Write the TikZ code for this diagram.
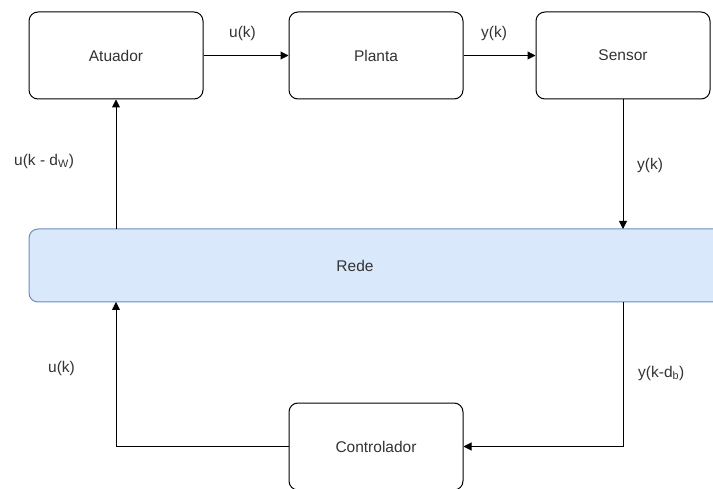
\documentclass[tikz,border=0pt]{standalone}
\usepackage{fontspec}
\setmainfont{Liberation Sans}
\usetikzlibrary{arrows.meta}
\definecolor{txt}{HTML}{333333}
\definecolor{netfill}{HTML}{DAE8FC}
\definecolor{netline}{HTML}{6C8EBF}
\tikzset{
  lbfont/.style={font=\fontsize{15.5pt}{18pt}\selectfont},
  block/.style={draw=black, line width=1pt, rounded corners=9pt, minimum width=174pt, minimum height=87pt, inner sep=0pt, text=txt, lbfont},
  netbox/.style={draw=netline, fill=netfill, line width=1pt, rounded corners=9pt, inner sep=0pt},
  sig/.style={text=txt, lbfont, inner sep=0pt, anchor=west},
  conn/.style={draw=black, line width=1pt, -{Triangle[length=8pt,width=8pt]}}
}
\begin{document}
\begin{tikzpicture}[x=1pt, y=-1pt]
  \useasboundingbox (0,0) rectangle (713,489);
  % processing blocks
  \node[block] (act) at (116,55.5) {Atuador};
  \node[block] (plant) at (376,55.5) {Planta};
  \node[block] (sens) at (623,55.5) {Sensor};
  \node[block] (ctrl) at (376,446.5) {Controlador};
  % communication network
  \node[netbox, minimum width=700pt, minimum height=73pt] (net) at (379,265.5) {};
  \node[text=txt, lbfont, inner sep=0pt] (netlbl) at (355,265.5) {Rede};
  % connection points on the network bar
  \coordinate (netA) at (116,229);
  \coordinate (netS) at (623,229);
  \coordinate (netC) at (116,302);
  \coordinate (netY) at (623,302);
  % signal flow
  \draw[conn] (act.east) -- (plant.west);
  \draw[conn] (plant.east) -- (sens.west);
  \draw[conn] (sens.south -| netS) -- (netS);
  \draw[conn] (netA) -- (act.south);
  \draw[conn] (netY) |- (ctrl.east);
  \draw[conn] (ctrl.west) -| (netC);
  % signal labels
  \node[sig] (l1) at (229,33) {u(k)};
  \node[sig] (l2) at (481,33) {y(k)};
  \node[sig] (l3) at (637,165) {y(k)};
  \node[sig] (l4) at (14,161) {u(k - d$_{\mathrm{W}}$)};
  \node[sig] (l5) at (48,368) {u(k)};
  \node[sig] (l6) at (638,373) {y(k-d$_{\mathrm{b}}$)};
\end{tikzpicture}
\end{document}
